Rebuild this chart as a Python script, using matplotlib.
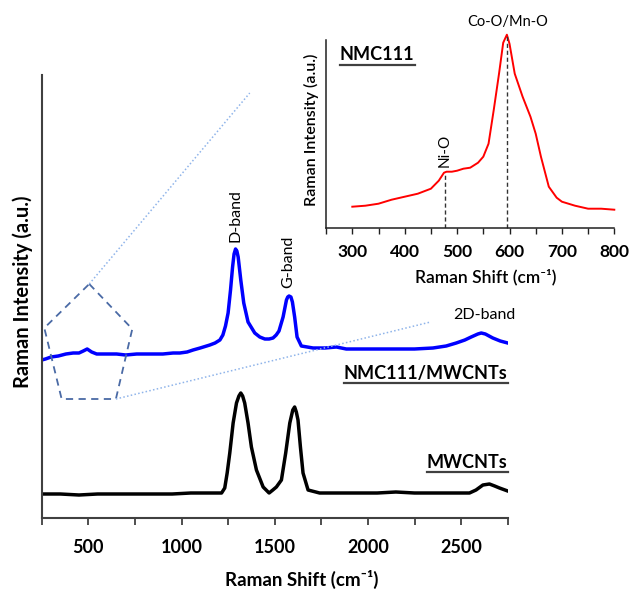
import matplotlib
matplotlib.use("Agg")
import matplotlib.pyplot as plt
from matplotlib.lines import Line2D
from matplotlib.ticker import MultipleLocator

plt.rcParams['font.family'] = ['Lato', 'DejaVu Sans']

# ---------------- data ----------------
# NMC111/MWCNTs (blue), offset spectrum
blue_x = [250, 270, 300, 339, 380, 419, 450, 473, 494, 518, 545, 600, 652, 700, 760, 830, 900,
          955, 991, 1030, 1062, 1100, 1152, 1180, 1206, 1222, 1236, 1250, 1263, 1274, 1282, 1290,
          1297, 1304, 1318, 1334, 1357, 1393, 1420, 1447, 1470, 1491, 1508, 1523, 1545,
          1563, 1570, 1577, 1587, 1595, 1607, 1620, 1643, 1706, 1770, 1831, 1884, 1950,
          2050, 2150, 2250, 2349, 2420, 2474, 2520, 2554, 2590, 2608, 2630, 2670, 2710, 2750]
blue_y = [158, 159, 161, 162, 164, 165, 165, 167, 169, 166, 164, 164, 164, 163, 164, 164, 164,
          165, 165, 166, 168, 170, 173, 175, 178, 183, 192, 205, 228, 251, 264, 269,
          267, 261, 238, 215, 196, 185, 181, 179, 179, 180, 183, 187, 201,
          218, 221, 222, 221, 216, 201, 181, 172, 170, 170, 171, 169, 169,
          169, 169, 169, 170, 172, 175, 178, 181, 184, 185, 184, 180, 177, 175]

# MWCNTs (black)
black_x = [250, 350, 450, 550, 650, 750, 850, 950, 1050, 1150, 1215, 1232, 1245, 1259, 1277,
           1295, 1308, 1318, 1328, 1339, 1357, 1375, 1402, 1438, 1470, 1490, 1509, 1536,
           1559, 1581, 1597, 1607, 1616, 1625, 1638, 1652, 1679, 1741, 1849, 1950, 2050,
           2150, 2250, 2350, 2450, 2545, 2580, 2617, 2652, 2680, 2706, 2750]
black_y = [24, 24, 23, 24, 24, 24, 24, 24, 25, 25, 25, 30, 45, 65, 95,
           115, 122, 125, 122, 115, 95, 71, 48, 31, 25, 28, 31, 38,
           65, 95, 108, 111, 106, 98, 71, 45, 28, 25, 25, 25, 25,
           26, 25, 25, 25, 25, 28, 33, 34, 32, 30, 27]

# NMC111 inset (red)
red_x = [300, 325, 350, 375, 400, 425, 450, 465, 475, 480, 490, 500, 512, 525, 540, 550,
         560, 570, 580, 588, 595, 600, 610, 625, 640, 650, 660, 675, 690, 700, 725, 750, 775, 800]
red_y = [21, 22, 24, 28, 31, 34, 39, 47, 55, 56, 56, 57, 59, 60, 65, 71,
         84, 118, 154, 185, 193, 184, 154, 131, 111, 94, 71, 41, 30, 26, 22, 19, 19, 18]

main_xticks = [500, 1000, 1500, 2000, 2500]
inset_xticks = [300, 400, 500, 600, 700, 800]
peak_NiO = 476
peak_CoO = 595

# ---------------- figure ----------------
fig = plt.figure(figsize=(6.31, 5.92), dpi=100)
W, H = 631, 592

def fr(px_l, py_t, px_r, py_b):
    return [px_l / W, 1 - py_b / H, (px_r - px_l) / W, (py_b - py_t) / H]

ax = fig.add_axes(fr(41.7, 75, 507.7, 518))
ax.plot(blue_x, blue_y, color='#0000ff', lw=2.5, solid_joinstyle='round')
ax.plot(black_x, black_y, color='black', lw=2.5, solid_joinstyle='round')
ax.set_xlim(250, 2750)
ax.set_ylim(0, 443)
for s in ['top', 'right']:
    ax.spines[s].set_visible(False)
for s in ['left', 'bottom']:
    ax.spines[s].set_color('#404040')
    ax.spines[s].set_linewidth(1.5)
ax.set_yticks([])
ax.set_xticks(main_xticks)
ax.xaxis.set_minor_locator(MultipleLocator(250))
ax.tick_params(axis='x', which='both', direction='out', length=5, width=1.3, color='#404040')
ax.tick_params(axis='x', which='major', labelsize=13, pad=10)
for lab in ax.get_xticklabels():
    lab.set_fontweight('bold')
ax.set_xlabel('Raman Shift (cm\u207b\u00b9)', fontsize=13.5, fontweight='bold')
ax.xaxis.set_label_coords(0.559, -0.117)
ax.set_ylabel('Raman Intensity (a.u.)', fontsize=14.5, fontweight='bold')
ax.yaxis.set_label_coords(-0.018, 0.51)

# pentagon zoom marker and dotted guide lines
pent_x = [505, 736, 648, 357, 264, 505]
pent_y = [234, 189, 119, 119, 190, 234]
ax.plot(pent_x, pent_y, ls=(0, (4, 3)), color='#4a6aa5', lw=1.3, clip_on=False)
ax.plot([505, 1366], [234, 425], ls=(0, (1, 1.5)), color='#8fb4ea', lw=1.1)
ax.plot([648, 2336], [119, 196], ls=(0, (1, 1.5)), color='#8fb4ea', lw=1.1)

ax.text(1291, 302, 'D-band', rotation=90, ha='center', va='center', fontsize=11.5)
ax.text(1575, 256, 'G-band', rotation=90, ha='center', va='center', fontsize=11.5)
ax.text(2626, 203, '2D-band', ha='center', va='center', fontsize=11.5)
t1 = ax.text(2750, 145, 'NMC111/MWCNTs', ha='right', va='center', fontsize=13, fontweight='bold')
t2 = ax.text(2750, 56, 'MWCNTs', ha='right', va='center', fontsize=13, fontweight='bold')

# ---------------- inset ----------------
ax2 = fig.add_axes(fr(326.1, 40, 614.3, 227.7))
ax2.plot(red_x, red_y, color='#ff0000', lw=1.4, clip_on=False)
ax2.set_xlim(250, 800)
ax2.set_ylim(0, 187.7)
for s in ['top', 'right']:
    ax2.spines[s].set_visible(False)
for s in ['left', 'bottom']:
    ax2.spines[s].set_color('#202020')
    ax2.spines[s].set_linewidth(1.1)
ax2.set_yticks([])
ax2.set_xticks(inset_xticks)
ax2.xaxis.set_minor_locator(MultipleLocator(50))
ax2.tick_params(axis='x', which='both', direction='out', length=4, width=1, color='#202020')
ax2.tick_params(axis='x', which='major', labelsize=12.5, pad=8)
for lab in ax2.get_xticklabels():
    lab.set_fontweight('bold')
ax2.set_xlabel('Raman Shift (cm\u207b\u00b9)', fontsize=12.5, fontweight='semibold')
ax2.xaxis.set_label_coords(0.555, -0.22)
ax2.set_ylabel('Raman Intensity (a.u.)', fontsize=11.5, fontweight='semibold')
ax2.yaxis.set_label_coords(-0.025, 0.52)
ax2.plot([peak_NiO, peak_NiO], [0, 55], ls=(0, (3, 2)), color='#333333', lw=1)
ax2.plot([peak_CoO, peak_CoO], [0, 193], ls=(0, (3, 2)), color='#333333', lw=1, clip_on=False)
ax2.text(peak_NiO, 61, 'Ni-O', rotation=90, ha='center', va='bottom', fontsize=11)
ax2.text(peak_CoO + 1, 206, 'Co-O/Mn-O', ha='center', va='center', fontsize=10.5, clip_on=False)
t3 = ax2.text(276.5, 172.7, 'NMC111', ha='left', va='center', fontsize=13, fontweight='bold')

# underline helper
fig.canvas.draw()
r = fig.canvas.get_renderer()
for t in (t1, t2, t3):
    bb = t.get_window_extent(renderer=r)
    y = bb.y0 - 1.5
    fig.add_artist(Line2D([bb.x0 / fig.bbox.width, bb.x1 / fig.bbox.width],
                          [y / fig.bbox.height, y / fig.bbox.height],
                          transform=fig.transFigure, color='#404040', lw=1.6))

fig.savefig('out.png', dpi=100)
